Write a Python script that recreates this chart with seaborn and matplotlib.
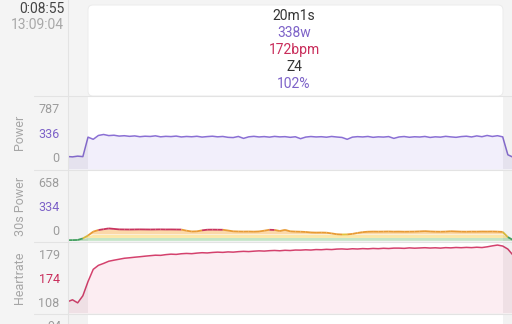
import numpy as np
import matplotlib
matplotlib.use("Agg")
import matplotlib.pyplot as plt
import seaborn as sns
from matplotlib.collections import LineCollection
from matplotlib.patches import FancyBboxPatch
from matplotlib.lines import Line2D
from matplotlib.transforms import IdentityTransform

# ---------------- data ----------------
time_s = np.arange(87) * 15 - 60          # sample times (s) relative to interval start
interval = (0, 1201)                      # selected interval 20m1s
view = (-58, 1227)

power_w = [12, 6, 18, 10, 325, 290, 352, 368, 350, 356,
           342, 348, 338, 345, 332, 340, 336, 346, 330, 338,
           334, 342, 328, 336, 331, 339, 326, 334, 340, 330,
           336, 322, 318, 336, 305, 330, 338, 328, 334, 325,
           337, 329, 333, 322, 331, 300, 326, 335, 328, 332,
           324, 336, 327, 320, 290, 325, 333, 328, 336, 322,
           330, 326, 334, 305, 328, 335, 323, 331, 327, 336,
           320, 330, 325, 338, 329, 322, 334, 340, 328, 345,
           332, 352, 336, 348, 330, 40, 0]

s30_w = [5, 8, 12, 60, 150, 270, 320, 345, 370, 355,
         340, 338, 336, 338, 340, 338, 336, 338, 340, 337,
         338, 336, 334, 300, 275, 280, 310, 330, 332, 330,
         328, 305, 280, 275, 272, 274, 270, 276, 300, 328,
         322, 290, 325, 280, 272, 268, 260, 245, 240, 242,
         238, 215, 190, 182, 185, 200, 230, 255, 268, 272,
         270, 272, 275, 270, 272, 268, 270, 272, 278, 285,
         276, 270, 268, 272, 282, 276, 270, 268, 272, 270,
         274, 272, 275, 270, 262, 100, 10]

hr_bpm = [109.3, 111.8, 108.0, 116.8, 134.5, 149.6, 154.6, 157.0, 159.7, 161.0,
          162.2, 163.4, 164.0, 164.7, 165.3, 166.0, 166.6, 167.2, 167.0, 167.9,
          168.5, 168.2, 169.0, 169.4, 169.1, 169.8, 170.3, 170.0, 170.6, 171.0,
          170.7, 171.3, 171.0, 171.6, 172.0, 171.7, 172.2, 172.6, 172.3, 172.8,
          173.1, 172.7, 173.3, 173.0, 173.6, 173.5, 173.9, 173.6, 174.2, 174.0,
          174.5, 174.2, 174.8, 175.0, 174.6, 175.2, 174.9, 175.4, 175.1, 175.6,
          175.3, 175.8, 175.5, 176.0, 176.0, 175.7, 176.3, 175.9, 176.2, 176.5,
          176.1, 176.4, 176.0, 176.6, 176.3, 176.8, 176.5, 176.9, 176.6, 177.1,
          176.7, 177.6, 178.8, 179.8, 178.6, 174.8, 167.2]

power_labels = ["0", "336", "787"]
s30_labels = ["0", "334", "658"]
hr_labels = ["108", "174", "179"]

header_lines = ["20m1s", "338w", "172bpm", "Z4", "102%"]
cursor_elapsed = "0:08:55"
cursor_clock = "13:09:04"

# 30s power zone bands (lo, hi, fill colour, line colour)
zones = [(-1e9, 90, "#c4e5c6", "#46a865"),
         (90, 185, "#fbe7a8", "#e3c23e"),
         (185, 320, "#fbd8a8", "#e89b34"),
         (320, 1e9, "#f7cfc9", "#c9345e")]

# ---------------- style ----------------
PURPLE = "#7d62c8"
CRIMSON = "#c92d5b"
GREY_TXT = "#9c9c9c"
SEP = "#e3e3e3"

sns.set_style("white")
plt.rcParams["font.family"] = ["Roboto", "DejaVu Sans"]

W, H = 512, 324
fig = plt.figure(figsize=(W / 100, H / 100), dpi=100, facecolor="#f4f4f4")


def rect(x0, ytop, x1, ybot):
    return [x0 / W, 1 - ybot / H, (x1 - x0) / W, (ybot - ytop) / H]


# header box
fig.patches.append(FancyBboxPatch((88, H - 96), 415, 91,
                                  boxstyle="round,pad=0,rounding_size=5",
                                  transform=IdentityTransform(),
                                  fc="white", ec="#ececec", lw=0.7, zorder=1))
hdr_colors = ["#333333", PURPLE, CRIMSON, "#333333", PURPLE]
for k, (txt, c) in enumerate(zip(header_lines, hdr_colors)):
    fig.text(294 / W, 1 - (16 + 17 * k) / H, txt, ha="center", va="center",
             fontsize=10, color=c)
fig.text(64 / W, 1 - 9 / H, cursor_elapsed, ha="right", va="center",
         fontsize=10, color="#444444")
fig.text(64 / W, 1 - 25 / H, cursor_clock, ha="right", va="center",
         fontsize=10, color="#a8a8a8")

ax_p = fig.add_axes(rect(68, 96, 512, 169))
ax_s = fig.add_axes(rect(68, 170, 512, 241))
ax_h = fig.add_axes(rect(68, 242, 512, 313))
ax_b = fig.add_axes(rect(68, 314, 512, 345))

ylims = {ax_p: (-190, 990), ax_s: (-20, 2180), ax_h: (95.4, 183.6), ax_b: (0, 1)}
tick_frac = np.array([0.16, 0.49, 0.83])

for ax in (ax_p, ax_s, ax_h, ax_b):
    ax.set_facecolor("white")
    for sp in ax.spines.values():
        sp.set_visible(False)
    ax.set_xlim(*view)
    ax.set_ylim(*ylims[ax])
    ax.set_xticks([])
    ax.tick_params(axis="y", length=0, pad=6, labelsize=9, labelcolor=GREY_TXT)
    ax.axvspan(view[0], interval[0], color="black", alpha=0.05, lw=0, zorder=6)
    ax.axvspan(interval[1], view[1], color="black", alpha=0.05, lw=0, zorder=6)

# Power
lo, hi = ylims[ax_p]
ax_p.fill_between(time_s, power_w, lo, color="#f2effb", lw=0, zorder=1)
sns.lineplot(x=time_s, y=power_w, ax=ax_p, color="#8a6fd4", lw=1.1, zorder=3)

# 30s Power with zone bands
t = np.asarray(time_s, float)
v = np.asarray(s30_w, float)
for zlo, zhi, fc, lc in zones:
    base = max(zlo, 0)
    ax_s.fill_between(t, base, np.minimum(v, zhi), where=v > base,
                      interpolate=True, color=fc, lw=0, zorder=1)
pts = np.column_stack([t, v])
segs = np.stack([pts[:-1], pts[1:]], axis=1)
mid = (v[:-1] + v[1:]) / 2
seg_colors = []
for m in mid:
    for zlo, zhi, fc, lc in zones:
        if zlo <= m < zhi:
            seg_colors.append(lc)
            break
ax_s.add_collection(LineCollection(segs, colors=seg_colors, lw=1.3, zorder=3))
sns.lineplot(x=time_s, y=s30_w, ax=ax_s, color="none", lw=0)

# Heartrate
lo, hi = ylims[ax_h]
ax_h.fill_between(time_s, hr_bpm, lo, color="#fcedf2", lw=0, zorder=1)
sns.lineplot(x=time_s, y=hr_bpm, ax=ax_h, color="#d4416d", lw=1.1, zorder=3)

for ax, labels, hl in ((ax_p, power_labels, PURPLE),
                       (ax_s, s30_labels, PURPLE),
                       (ax_h, hr_labels, CRIMSON)):
    lo, hi = ylims[ax]
    ax.set_yticks(lo + tick_frac * (hi - lo))
    ax.set_yticklabels(labels)
    ax.get_yticklabels()[1].set_color(hl)
    ax.set_ylabel("")
    ax.set_xlabel("")
ax_b.set_yticks([])
ax_b.set_ylabel("")
fig.text(62 / W, 1 - 327 / H, "94", ha="right", va="center", fontsize=9, color=GREY_TXT)

for txt, yc in (("Power", 132), ("30s Power", 206), ("Heartrate", 278)):
    fig.text(20 / W, 1 - yc / H, txt, rotation=90, ha="center", va="center",
             fontsize=9, color="#a6a6a6")

# separators
for yy in (95.5, 169.5, 241.5, 313.5):
    fig.add_artist(Line2D([34 / W, 1], [1 - yy / H] * 2, color=SEP, lw=0.8))
fig.add_artist(Line2D([68 / W] * 2, [0, 1], color=SEP, lw=0.8))

fig.savefig("out.png", dpi=100, facecolor=fig.get_facecolor())
